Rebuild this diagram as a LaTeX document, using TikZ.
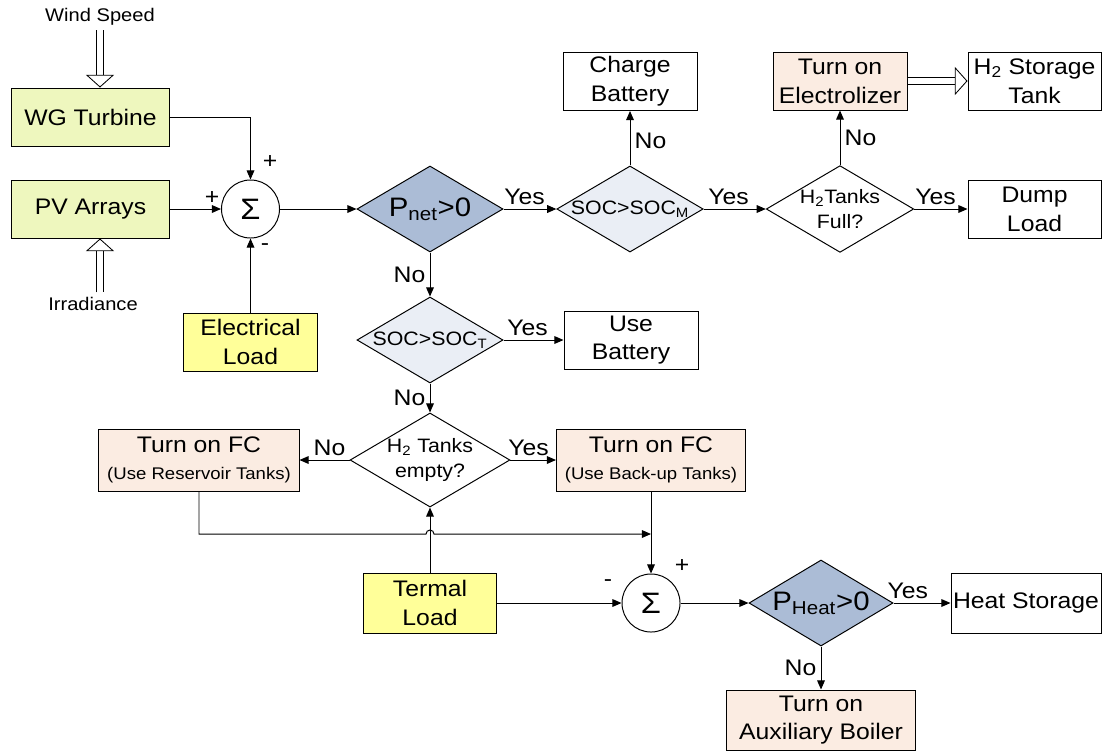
\documentclass[tikz,border=0pt]{standalone}
\usepackage{fontspec}
\setmainfont[FakeStretch=1.1]{Liberation Sans}
\usetikzlibrary{arrows.meta,shapes.geometric}
\definecolor{greenfill}{RGB}{238,247,190}
\definecolor{loadfill}{RGB}{255,255,153}
\definecolor{peachfill}{RGB}{251,236,226}
\definecolor{bluefill}{RGB}{171,188,214}
\definecolor{lightfill}{RGB}{234,238,245}
\newcommand\fmain{\fontsize{16}{20.5}\selectfont}
\newcommand\fsmall{\fontsize{13}{18}\selectfont}
\newcommand\fdia{\fontsize{13.8}{18}\selectfont}
\newcommand\ftiny{\fontsize{12}{14}\selectfont}
\newcommand\fbig{\fontsize{19}{22}\selectfont}
\newcommand\fsum{\fontsize{21}{21}\selectfont}
\begin{document}
\begin{tikzpicture}[x=0.025cm,y=-0.025cm,
	box/.style={draw,line width=0.7pt,inner sep=0pt,align=center,minimum width=3.35cm,minimum height=1.45cm,font=\fmain},
	decision/.style={diamond,aspect=1.7,draw,line width=0.7pt,inner sep=0pt,align=center,minimum width=3.65cm,minimum height=2.15cm,font=\fdia},
	sumnode/.style={circle,draw,line width=0.7pt,inner sep=0pt,minimum size=1.45cm,font=\fsum},
	arr/.style={line width=0.7pt,-{Triangle[length=6.5pt,width=5.5pt]}},
	hollow/.style={double,double distance=3.8pt,line width=0.6pt,-{Triangle[open,fill=white,length=9pt,width=20pt,line width=0.6pt]}},
	lbl/.style={font=\fmain,inner sep=3pt},
	sign/.style={font=\fmain,inner sep=0pt}]
		%\draw[gray!50, thin, step=50] (0,0) grid (1100,750);
		\useasboundingbox (0,0) rectangle (1102,751);
		% sources
		\node[font=\fsmall] (ws) at (100,17) {Wind Speed};
		\node[box,fill=greenfill,minimum width=3.925cm] (wg) at (90.5,117) {WG Turbine};
		\node[box,fill=greenfill,minimum width=3.925cm] (pv) at (90.5,209) {PV Arrays};
		\node[font=\fsmall] (irr) at (93,304) {Irradiance};
		\node[box,fill=loadfill,minimum width=3.325cm] (eload) at (250.5,342) {Electrical\\Load};
		\node[sumnode] (sum1) at (250.5,209) {Σ};
		\node[sign] (p1) at (270,162) {+};
		\node[sign] (p2) at (212,198) {+};
		\node[sign] (m1) at (265,247) {-};
		\draw[hollow] (ws) -- (ws |- wg.north);
		\draw[hollow] (irr.north -| ws) -- (pv.south -| ws);
		\draw[arr] (wg.east) -| (sum1.north);
		\draw[arr] (pv) -- (sum1);
		\draw[arr] (eload) -- (sum1);
		% surplus branch
		\node[decision,fill=bluefill,font=\fbig] (pnet) at (430,209) {P\textsubscript{net}>0};
		\node[decision,fill=lightfill] (socm) at (630,209) {SOC>SOC\textsubscript{M}};
		\node[box] (chg) at (630,81.5) {Charge\\Battery};
		\node[decision,fill=white] (h2f) at (840,209) {H\textsubscript{2}Tanks\\Full?};
		\node[box,fill=peachfill] (elec) at (840,81) {Turn on\\Electrolizer};
		\node[box,minimum width=3.325cm] (h2s) at (1034.5,81) {H\textsubscript{2} Storage\\Tank};
		\node[box,minimum width=3.325cm] (dump) at (1034.5,209) {Dump\\Load};
		\draw[arr] (sum1) -- (pnet);
		\draw[arr] (pnet) -- node[lbl,above,pos=0.4] {Yes} (socm);
		\draw[arr] (socm) -- node[lbl,right,pos=0.45] {No} (chg);
		\draw[arr] (socm) -- node[lbl,above,pos=0.4] {Yes} (h2f);
		\draw[arr] (h2f) -- node[lbl,right,pos=0.5] {No} (elec);
		\draw[arr] (h2f) -- node[lbl,above,pos=0.4] {Yes} (dump);
		\draw[hollow] (elec) -- (h2s);
		% deficit branch
		\node[decision,fill=lightfill] (soct) at (430,340) {SOC>SOC\textsubscript{T}};
		\node[box] (useb) at (631,340) {Use\\Battery};
		\node[decision,fill=white] (h2e) at (430,460) {H\textsubscript{2} Tanks\\empty?};
		\node[box,fill=peachfill,minimum width=5cm,minimum height=1.55cm] (fcr) at (199,460) {Turn on FC\\[-1pt]{\ftiny (Use Reservoir Tanks)}};
		\node[box,fill=peachfill,minimum width=4.725cm,minimum height=1.55cm] (fcb) at (651,460) {Turn on FC\\[-1pt]{\ftiny (Use Back-up Tanks)}};
		\draw[arr] (pnet) -- node[lbl,left] {No} (soct);
		\draw[arr] (soct) -- node[lbl,above,pos=0.4] {Yes} (useb);
		\draw[arr] (soct) -- node[lbl,left] {No} (h2e);
		\draw[arr] (h2e) -- node[lbl,above,pos=0.4] {No} (fcr);
		\draw[arr] (h2e) -- node[lbl,above,pos=0.4] {Yes} (fcb);
		% heat balance
		\node[box,fill=loadfill,minimum width=3.325cm,minimum height=1.5cm] (tload) at (430,603) {Termal\\Load};
		\node[sumnode] (sum2) at (651,603) {Σ};
		\node[sign] (m2) at (608,583) {-};
		\node[sign] (p3) at (682,566) {+};
		\node[decision,fill=bluefill,font=\fbig,minimum width=3.6cm] (pheat) at (821,603) {P\textsubscript{Heat}>0};
		\node[box,minimum width=3.75cm,minimum height=1.5cm] (heat) at (1026,603) {Heat Storage};
		\node[box,fill=peachfill,minimum width=4.725cm,minimum height=1.5cm] (aux) at (821,720) {Turn on\\Auxiliary Boiler};
		\coordinate (j) at (651,534);
		\draw[arr] (fcr.south) |- (426,534) arc[start angle=180,end angle=0,radius=0.1cm] -- (j);
		\draw[arr] (tload) -- (h2e);
		\draw[arr] (fcb) -- (sum2);
		\draw[arr] (tload) -- (sum2);
		\draw[arr] (sum2) -- (pheat);
		\draw[arr] (pheat) -- node[lbl,above,pos=0.25] {Yes} (heat);
		\draw[arr] (pheat) -- node[lbl,left] {No} (aux);
\end{tikzpicture}
\end{document}
